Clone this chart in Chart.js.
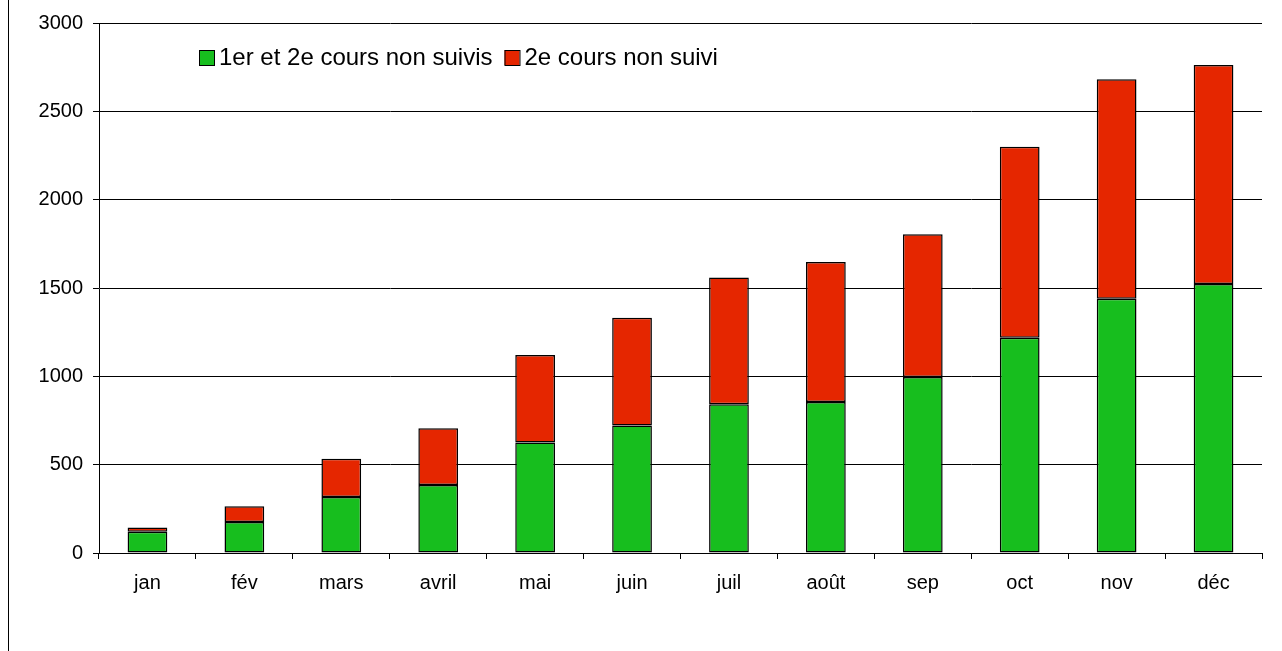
<!DOCTYPE html>
<html>
<head>
<meta charset="utf-8">
<script src="https://cdn.jsdelivr.net/npm/chart.js@4.4.1/dist/chart.umd.min.js"></script>
<style>
  body { margin: 0; background: #fff; }
  #wrap { position: relative; width: 1282px; height: 651px; }
  #frame { position: absolute; left: 8px; top: 0; width: 0; height: 651px; border-left: 1px solid #000; }
  canvas { position: absolute; left: 0; top: 0; }
</style>
</head>
<body>
<div id="wrap">
  <div id="frame"></div>
  <canvas id="chart" width="1282" height="651"></canvas>
</div>
<script>
// Monthly counts
const months = ['jan', 'fév', 'mars', 'avril', 'mai', 'juin', 'juil', 'août', 'sep', 'oct', 'nov', 'déc'];
const bothMissed = [120, 175, 317, 385, 626, 721, 842, 855, 996, 1218, 1439, 1522];
const secondMissed = [25, 89, 217, 321, 495, 610, 718, 792, 808, 1082, 1242, 1240];
const seriesLabels = ['1er et 2e cours non suivis', '2e cours non suivi'];
const yTicks = [0, 500, 1000, 1500, 2000, 2500, 3000];

const GREEN = '#17BE1E';
const RED = '#E52600';
const FONT = "'Liberation Sans', Arial, sans-serif";

// Legend sits inside the plot area, top left, like the original sheet
const insideLegend = {
  id: 'insideLegend',
  afterDraw(chart) {
    const { ctx } = chart;
    const box = 15;
    const items = chart.data.datasets.map((ds) => ({ text: ds.label, color: ds.backgroundColor }));
    let x = 199;
    const y = 50;
    ctx.save();
    ctx.font = `24px ${FONT}`;
    ctx.textBaseline = 'middle';
    items.forEach((item) => {
      ctx.fillStyle = item.color;
      ctx.fillRect(x, y, box, box);
      ctx.strokeStyle = '#000';
      ctx.lineWidth = 1;
      ctx.strokeRect(x + 0.5, y + 0.5, box, box);
      ctx.fillStyle = '#000';
      ctx.fillText(item.text, x + box + 5, y + box / 2 + 1);
      x += box + 5 + ctx.measureText(item.text).width + 12;
    });
    ctx.restore();
  },
};

new Chart(document.getElementById('chart'), {
  type: 'bar',
  data: {
    labels: months,
    datasets: [
      {
        label: seriesLabels[0],
        data: bothMissed,
        backgroundColor: GREEN,
        borderColor: '#000',
        borderWidth: 1.5,
        borderSkipped: false,
        barPercentage: 0.41,
        categoryPercentage: 1,
      },
      {
        label: seriesLabels[1],
        data: secondMissed,
        backgroundColor: RED,
        borderColor: '#000',
        borderWidth: 1.5,
        borderSkipped: false,
        barPercentage: 0.41,
        categoryPercentage: 1,
      },
    ],
  },
  options: {
    responsive: false,
    animation: false,
    layout: { padding: { top: 23, right: 20, bottom: 0, left: 0 } },
    plugins: {
      legend: { display: false },
      tooltip: { enabled: false },
    },
    scales: {
      x: {
        stacked: true,
        afterFit: (scale) => { scale.height = 98; },
        grid: {
          offset: true,
          drawOnChartArea: false,
          drawTicks: true,
          tickLength: 6,
          tickColor: '#000',
        },
        border: { display: true, color: '#000', width: 1 },
        ticks: {
          color: '#000',
          font: { family: FONT, size: 20 },
          padding: 12,
          maxRotation: 0,
        },
      },
      y: {
        stacked: true,
        min: yTicks[0],
        max: yTicks[yTicks.length - 1],
        afterFit: (scale) => { scale.width = 99; },
        afterBuildTicks: (scale) => { scale.ticks = yTicks.map((v) => ({ value: v })); },
        grid: {
          color: '#000',
          lineWidth: 1,
          drawTicks: true,
          tickLength: 6,
          tickColor: '#000',
        },
        border: { display: true, color: '#000', width: 1 },
        ticks: {
          color: '#000',
          font: { family: FONT, size: 20 },
          padding: 10,
          callback: (v) => String(v),
        },
      },
    },
  },
  plugins: [insideLegend],
});
</script>
</body>
</html>
